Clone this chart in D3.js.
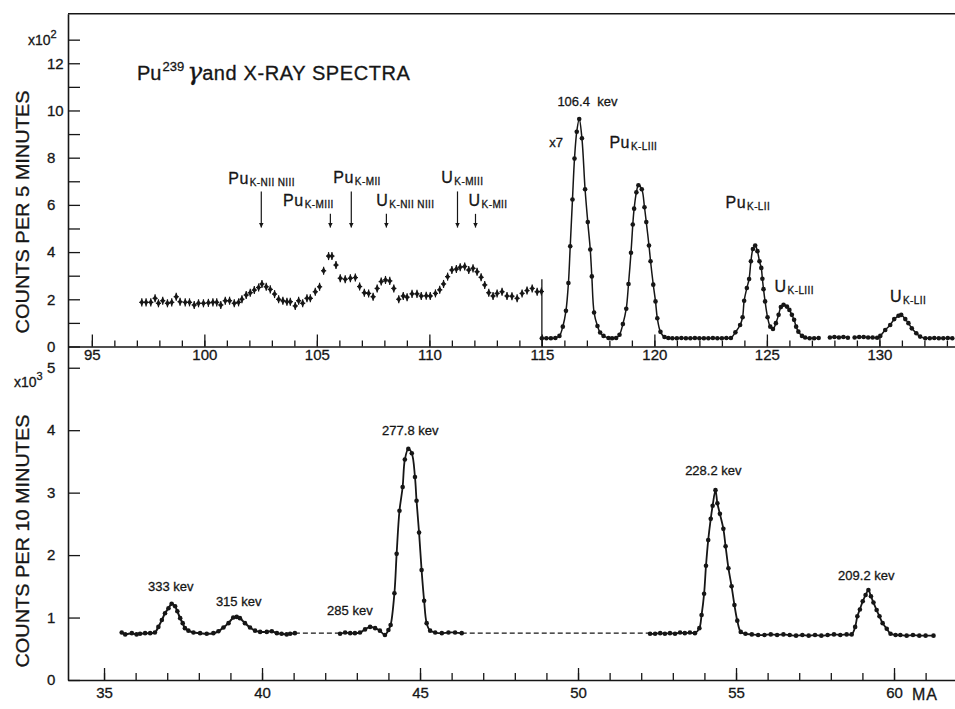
<!DOCTYPE html>
<html><head><meta charset="utf-8">
<script src="https://cdn.jsdelivr.net/npm/d3@7"></script>
<style>
body{margin:0;background:#fff;}
svg text{font-family:"Liberation Sans",Arial,sans-serif;fill:#161616;stroke:#161616;stroke-width:0.3px;}
</style></head><body>
<svg id="c" width="955" height="709"></svg>
<script>
// ---------- DATA (top panel: counts per 5 min, x10^2, vs MA) ----------
const topLowX = [97.22,97.41,97.62,97.81,97.96,98.15,98.36,98.55,98.75,98.92,
  99.15,99.34,99.55,99.74,99.96,100.18,100.38,100.55,100.73,100.93,
  101.12,101.33,101.52,101.67,101.86,102.04,102.22,102.41,102.56,102.75,
  102.93,103.12,103.3,103.49,103.67,103.82,104.04,104.19,104.37,104.56,
  104.71,104.93,105.12,
  105.3,105.52,105.67,105.85,106.04,106.26,106.49,106.71,106.9,107.11,
  107.3,107.5,107.68,107.86,108.05,108.24,108.42,108.64,108.84,109.01,
  109.23,109.45,109.64,109.86,110.04,110.27,110.46,110.63,110.81,111.0,
  111.2,111.37,111.57,111.75,111.94,112.12,112.3,112.46,112.64,112.83,
  113.01,113.23,113.45,113.67,113.9,114.12,114.34,114.57,114.79,114.98];
const topLowY = [1.87,1.87,1.87,2.04,1.83,1.94,1.83,1.87,2.11,1.9,
  1.87,1.87,1.76,1.83,1.83,1.85,1.87,1.87,1.76,1.94,
  1.94,1.83,1.87,2.0,2.18,2.28,2.39,2.5,2.65,2.53,
  2.42,2.22,2.0,1.94,1.9,1.9,1.72,1.94,1.83,2.04,
  2.04,2.32,2.53,
  3.21,3.83,3.83,3.45,2.89,2.85,2.89,2.92,2.54,2.28,
  2.25,2.11,2.46,2.75,2.82,2.78,2.46,2.0,2.14,2.09,
  2.23,2.23,2.14,2.15,2.14,2.25,2.4,2.65,2.96,3.24,
  3.28,3.36,3.39,3.24,3.31,3.17,2.93,2.61,2.28,2.14,
  2.25,2.32,2.14,2.13,2.04,2.25,2.37,2.46,2.32,2.33];
const topLowErr = 0.17;
const scaleBreakX = 115, scaleBreakTop = 2.85;

const topHiX1 = [115.0,115.2,115.4,115.6,115.78,115.93,116.07,116.18,116.26,116.36,116.45,116.55,116.66,116.78,116.92,117.04,117.15,117.22,117.32,117.47,117.59,117.74,117.96,118.12,118.3,118.45,118.6,118.75,118.85,118.96,119.04,119.1,119.2,119.29,119.44,119.56,119.64,119.76,119.83,119.95,120.05,120.13,120.27,120.45,120.62,120.8,121.0,121.2,121.4,121.6,121.8,122.0,122.2,122.4,122.6,122.8,123.0,123.2,123.4,123.6,123.81,123.92,123.99,124.11,124.21,124.29,124.38,124.48,124.58,124.67,124.75,124.8,124.85,124.92,125.03,125.15,125.27,125.4,125.52,125.62,125.74,125.89,126.0,126.11,126.21,126.3,126.4,126.56,126.7,126.9,127.1,127.3];
const topHiY1 = [0.35,0.35,0.35,0.36,0.45,0.84,1.51,2.69,4.25,6.23,7.96,9.1,9.64,8.82,6.66,5.27,4.11,2.97,1.44,0.87,0.59,0.45,0.36,0.35,0.36,0.5,0.95,1.6,2.65,3.97,5.17,5.84,6.53,6.83,6.66,5.9,5.27,4.28,3.61,2.62,1.91,1.2,0.62,0.4,0.36,0.35,0.35,0.36,0.35,0.35,0.36,0.35,0.35,0.35,0.36,0.35,0.35,0.36,0.36,0.6,0.91,1.24,1.94,2.48,2.86,3.61,4.13,4.28,4.04,3.61,3.33,2.87,2.43,1.91,1.24,0.84,0.74,0.99,1.34,1.67,1.77,1.69,1.55,1.34,1.13,0.84,0.63,0.45,0.38,0.35,0.35,0.36];
const topHiX2 = [127.8,128.0,128.2,128.4,128.6];
const topHiY2 = [0.38,0.4,0.38,0.4,0.37];
const topHiX3 = [128.9,129.1,129.3,129.5,129.7,129.9,130.04,130.26,130.48,130.66,130.85,130.97,131.15,131.29,131.44,131.64,131.81,132.04,132.24,132.44,132.64,132.84,133.04,133.24];
const topHiY3 = [0.38,0.4,0.4,0.38,0.38,0.37,0.45,0.7,0.91,1.16,1.3,1.34,1.16,0.99,0.77,0.56,0.42,0.35,0.35,0.36,0.35,0.35,0.36,0.35];

// ---------- DATA (bottom panel: counts per 10 min, x10^3, vs MA) ----------
const botX1 = [35.56,35.67,35.88,36.03,36.14,36.3,36.46,36.61,36.72,36.83,36.93,37.04,37.14,37.25,37.32,37.41,37.49,37.56,37.67,37.83,38.04,38.25,38.46,38.62,38.78,38.94,39.09,39.2,39.3,39.46,39.62,39.78,39.94,40.15,40.31,40.47,40.62,40.78,40.89,41.04];
const botY1 = [0.76,0.73,0.75,0.73,0.74,0.75,0.75,0.76,0.85,0.96,1.07,1.15,1.22,1.18,1.1,0.99,0.91,0.83,0.79,0.76,0.75,0.74,0.75,0.78,0.84,0.91,1.0,1.01,0.99,0.91,0.84,0.79,0.77,0.77,0.78,0.75,0.74,0.73,0.74,0.75];
const botX2 = [42.47,42.63,42.79,42.94,43.1,43.26,43.42,43.58,43.73,43.89,44.0,44.07,44.19,44.26,44.35,44.45,44.52,44.63,44.74,44.84,44.89,44.97,45.05,45.13,45.21,45.32,45.48,45.69,45.9,46.11,46.32];
const botY2 = [0.74,0.76,0.75,0.75,0.76,0.81,0.85,0.83,0.79,0.72,0.8,0.88,1.39,2.02,2.71,3.09,3.53,3.70,3.63,3.25,2.87,2.36,1.76,1.27,0.91,0.79,0.76,0.75,0.76,0.76,0.75];
const botX3 = [52.28,52.44,52.6,52.75,52.91,53.07,53.23,53.38,53.54,53.7,53.84,53.91,53.99,54.05,54.12,54.2,54.26,54.35,54.41,54.49,54.6,54.67,54.76,54.86,54.95,55.04,55.15,55.3,55.5,55.7,55.9,56.1,56.3,56.5,56.7,56.9,57.1,57.3,57.5,57.7,57.9,58.1,58.3,58.5,58.66,58.77,58.84,58.92,59.01,59.1,59.19,59.27,59.35,59.45,59.54,59.64,59.77,59.89,60.05,60.2,60.4,60.6,60.8,61.0,61.25];
const botY3 = [0.74,0.74,0.75,0.74,0.75,0.74,0.76,0.75,0.76,0.75,0.83,1.04,1.38,1.83,2.24,2.58,2.79,3.04,2.83,2.66,2.42,2.14,1.79,1.5,1.2,0.95,0.77,0.74,0.73,0.72,0.72,0.73,0.72,0.73,0.72,0.71,0.72,0.71,0.72,0.71,0.72,0.73,0.72,0.73,0.73,0.85,1.02,1.13,1.26,1.36,1.44,1.34,1.24,1.12,1.02,0.91,0.82,0.74,0.72,0.72,0.71,0.72,0.71,0.71,0.71];
const botDashX = [[41.04,42.47],[46.32,52.28]];
const botDashLevel = 0.75;

// ---------- TICKS / LABELS ----------
const topXTickLabels = [95,100,105,110,115,120,125,130];
const topYTickLabels = [0,2,4,6,8,10,12];
const botXTickLabels = [35,40,45,50,55,60];
const botYTickLabels = [0,1,2,3,4,5];

const topArrows = [ // [label main, subscript, label x, label y, arrow x, arrow top y]
  ["Pu","K-NII NIII",101.06,6.87,102.53,6.57],
  ["Pu","K-MIII",103.5,5.94,105.6,5.62],
  ["Pu","K-MII",105.73,6.91,106.53,6.57],
  ["U","K-NII NIII",107.64,5.94,108.09,5.62],
  ["U","K-MIII",110.53,6.91,111.25,6.57],
  ["U","K-MII",111.74,5.94,112.05,5.62]
];
const arrowTipY = 5.04;
const topPeakLabels = [
  ["Pu","K-LIII",118.0,8.4],
  ["Pu","K-LII",123.16,5.85],
  ["U","K-LIII",125.34,2.32],
  ["U","K-LII",130.47,1.89]
];
const topPlainLabels = [["106.4  kev",115.69,10.19],["x7",115.33,8.45]];
const botLabels = [
  ["333 kev",36.39,1.43],["315 kev",38.54,1.19],["285 kev",42.06,1.04],
  ["277.8 kev",43.8,3.93],["228.2 kev",53.39,3.29],["209.2 kev",58.23,1.6]
];

// ---------- DRAW ----------
const ink = "#161616";
const svg = d3.select("#c");
const L = 68, R = 955;
const xT = d3.scaleLinear().domain([93.94,133.36]).range([L,R]);
const yT = d3.scaleLinear().domain([0,14.1]).range([346.5,13.7]);
const xB = d3.scaleLinear().domain([33.86,61.93]).range([L,R]);
const yB = d3.scaleLinear().domain([0,5.34]).range([680,346.5]);

function styleAxis(g){
  g.selectAll("path,line").attr("stroke",ink).attr("stroke-width",1.3);
  g.select(".domain").attr("stroke-width",1.6);
  g.selectAll("text").attr("fill",ink).attr("font-family","Liberation Sans, Arial, sans-serif");
}

// top x axis
const gTX = svg.append("g").attr("transform",`translate(0,${yT(0)})`)
  .call(d3.axisBottom(xT).tickValues(d3.range(95,134,1)).tickSizeInner(-6).tickSizeOuter(0).tickFormat(""));
const gTX2 = svg.append("g").attr("transform",`translate(0,${yT(0)})`)
  .call(d3.axisBottom(xT).tickValues(topXTickLabels).tickSizeInner(-12).tickSizeOuter(0).tickPadding(3).tickFormat(d3.format("d")));
gTX2.select(".domain").remove();
styleAxis(gTX); styleAxis(gTX2);
gTX2.selectAll("text").attr("font-size",15);

// top y axis
const gTY = svg.append("g").attr("transform",`translate(${L},0)`)
  .call(d3.axisLeft(yT).tickValues(d3.range(0,14,1)).tickSizeInner(-12).tickSizeOuter(0).tickFormat(""));
const gTY2 = svg.append("g").attr("transform",`translate(${L},0)`)
  .call(d3.axisLeft(yT).tickValues(topYTickLabels).tickSize(0).tickPadding(21).tickFormat(d3.format("d")));
gTY2.select(".domain").remove();
styleAxis(gTY); styleAxis(gTY2);
gTY2.selectAll("text").attr("text-anchor","start").attr("font-size",15);
// top frame line
svg.append("line").attr("x1",L).attr("x2",R).attr("y1",yT.range()[1]).attr("y2",yT.range()[1])
  .attr("stroke",ink).attr("stroke-width",1.4);

// bottom x axis
const gBX = svg.append("g").attr("transform",`translate(0,${yB(0)})`)
  .call(d3.axisBottom(xB).tickValues(d3.range(35,62,1)).tickSizeInner(-7).tickSizeOuter(0).tickFormat(""));
const gBX2 = svg.append("g").attr("transform",`translate(0,${yB(0)})`)
  .call(d3.axisBottom(xB).tickValues(botXTickLabels).tickSizeInner(-12).tickSizeOuter(0).tickPadding(7).tickFormat(d3.format("d")));
gBX2.select(".domain").remove();
styleAxis(gBX); styleAxis(gBX2);
gBX2.selectAll("text").attr("font-size",15);

// bottom y axis
const gBY = svg.append("g").attr("transform",`translate(${L},0)`)
  .call(d3.axisLeft(yB).tickValues(botYTickLabels).tickSizeInner(-12).tickSizeOuter(0).tickPadding(21).tickFormat(d3.format("d")));
styleAxis(gBY);
gBY.selectAll("text").attr("text-anchor","start").attr("font-size",15);

// multipliers
function mult(x,y,base,sup){
  const t = svg.append("text").attr("x",x).attr("y",y).attr("font-size",14);
  t.append("tspan").text(base);
  t.append("tspan").attr("dy",-7).attr("font-size",11).text(sup);
}
mult(28,45,"x10","2");
mult(14,387,"x10","3");
svg.append("text").attr("x",912).attr("y",700).attr("font-size",16)
  .attr("letter-spacing",1).text("MA");

// y axis titles
function ytitle(cy,txt,len){
  svg.append("text").attr("transform",`translate(29,${cy}) rotate(-90)`)
    .attr("text-anchor","middle").attr("font-size",18)
    .attr("textLength",len).attr("lengthAdjust","spacingAndGlyphs").text(txt);
}
ytitle(212,"COUNTS  PER 5 MINUTES",243);
ytitle(541,"COUNTS  PER 10 MINUTES",253);

// title
const tt = svg.append("text").attr("x",137).attr("y",80).attr("font-size",20);
tt.append("tspan").text("Pu");
tt.append("tspan").attr("dy",-9).attr("font-size",13).attr("dx",1).text("239");
tt.append("tspan").attr("dy",9).attr("font-size",25).attr("font-style","italic")
  .attr("font-family","DejaVu Serif, serif").attr("dx",3).text("γ");
tt.append("tspan").attr("font-size",20).attr("letter-spacing",0.6).text("and X-RAY SPECTRA");

// ----- top low-energy data with error bars -----
const lowPts = topLowX.map((x,i)=>({x, y:topLowY[i]}));
const gLow = svg.append("g").attr("stroke",ink).attr("fill",ink);
gLow.selectAll("line.err").data(lowPts).join("line")
  .attr("x1",d=>xT(d.x)).attr("x2",d=>xT(d.x))
  .attr("y1",d=>yT(d.y-topLowErr)).attr("y2",d=>yT(d.y+topLowErr)).attr("stroke-width",1.2);
gLow.selectAll("line.h").data(lowPts).join("line")
  .attr("x1",d=>xT(d.x)-2.6).attr("x2",d=>xT(d.x)+2.6)
  .attr("y1",d=>yT(d.y)).attr("y2",d=>yT(d.y)).attr("stroke-width",1.2);
gLow.selectAll("path.dm").data(lowPts).join("path")
  .attr("d",d3.symbol(d3.symbolDiamond,16)())
  .attr("transform",d=>`translate(${xT(d.x)},${yT(d.y)})`).attr("stroke","none");

// scale break line
svg.append("line").attr("x1",xT(scaleBreakX)).attr("x2",xT(scaleBreakX))
  .attr("y1",yT(0)).attr("y2",yT(scaleBreakTop)).attr("stroke",ink).attr("stroke-width",1.3);

// ----- curve segments -----
function drawSeg(xs,ys,xs_,ys_,sw){
  const pts = xs.map((x,i)=>[x,ys[i]]);
  const line = d3.line().x(d=>xs_(d[0])).y(d=>ys_(d[1])).curve(d3.curveCatmullRom.alpha(0.5));
  svg.append("path").attr("d",line(pts)).attr("fill","none").attr("stroke",ink).attr("stroke-width",sw);
  svg.append("g").selectAll("circle").data(pts).join("circle")
    .attr("cx",d=>xs_(d[0])).attr("cy",d=>ys_(d[1])).attr("r",2.3).attr("fill",ink);
}
drawSeg(topHiX1,topHiY1,xT,yT,1.5);
drawSeg(topHiX2,topHiY2,xT,yT,1.5);
drawSeg(topHiX3,topHiY3,xT,yT,1.5);
drawSeg(botX1,botY1,xB,yB,2);
drawSeg(botX2,botY2,xB,yB,1.8);
drawSeg(botX3,botY3,xB,yB,1.8);
botDashX.forEach(seg=>{
  svg.append("line").attr("x1",xB(seg[0])).attr("x2",xB(seg[1]))
    .attr("y1",yB(botDashLevel)).attr("y2",yB(botDashLevel))
    .attr("stroke",ink).attr("stroke-width",1.2).attr("stroke-dasharray","5,3");
});

// ----- annotations -----
svg.append("defs").append("marker").attr("id","ah").attr("viewBox","0 0 10 10")
  .attr("refX",10).attr("refY",5).attr("markerWidth",5).attr("markerHeight",7)
  .attr("markerUnits","userSpaceOnUse").attr("orient","auto")
  .append("path").attr("d","M0,0 L10,5 L0,10 Z").attr("fill",ink);

function subLabel(main,sub,x,y,xs_,ys_){
  const t = svg.append("text").attr("x",xs_(x)).attr("y",ys_(y)).attr("font-size",16);
  t.append("tspan").attr("letter-spacing",0.5).text(main);
  t.append("tspan").attr("dy",2).attr("dx",1).attr("font-size",10).attr("letter-spacing",0.4).text(sub);
}
topArrows.forEach(a=>{
  subLabel(a[0],a[1],a[2],a[3],xT,yT);
  svg.append("line").attr("x1",xT(a[4])).attr("x2",xT(a[4]))
    .attr("y1",yT(a[5])).attr("y2",yT(arrowTipY))
    .attr("stroke",ink).attr("stroke-width",1.2).attr("marker-end","url(#ah)");
});
topPeakLabels.forEach(a=>subLabel(a[0],a[1],a[2],a[3],xT,yT));
topPlainLabels.forEach(a=>{
  svg.append("text").attr("x",xT(a[1])).attr("y",yT(a[2])).attr("font-size",13)
    .attr("xml:space","preserve").style("white-space","pre").text(a[0]);
});
botLabels.forEach(a=>{
  svg.append("text").attr("x",xB(a[1])).attr("y",yB(a[2])).attr("font-size",13).text(a[0]);
});
</script>
</body></html>
